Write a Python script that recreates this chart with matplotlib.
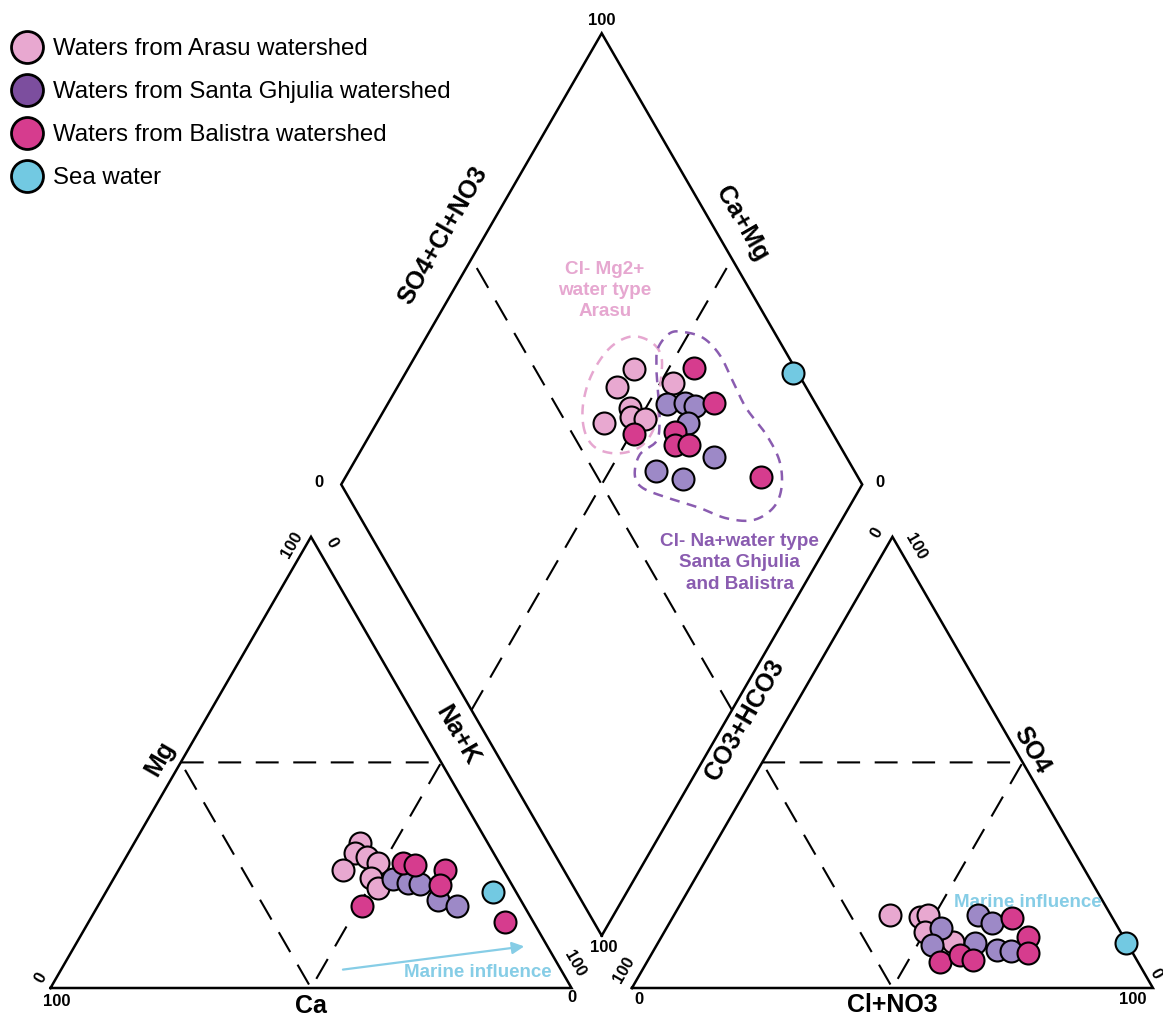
import numpy as np
import matplotlib.pyplot as plt
from matplotlib.lines import Line2D

plt.rcParams['font.family'] = ['Liberation Sans', 'DejaVu Sans']

# ---- values (%) ----
# cation triangle: Ca, Mg, Na+K
arasu_ca = [24.5, 26.6, 24.8, 30.7, 23.2, 26.2, 26.0]
arasu_mg = [32.2, 29.9, 29.0, 26.2, 27.7, 24.4, 22.2]
arasu_nak = [43.3, 43.5, 46.2, 43.1, 49.1, 49.4, 51.8]
santa_ca = [22.2, 19.7, 17.6, 15.9, 13.0]
santa_mg = [24.1, 23.2, 23.0, 19.5, 18.1]
santa_nak = [53.7, 57.1, 59.4, 64.6, 68.9]
bal_ca = [18.5, 16.4, 11.2, 13.8, 31.2, 5.4]
bal_mg = [27.6, 27.3, 26.2, 22.8, 18.2, 14.7]
bal_nak = [53.9, 56.3, 62.6, 63.4, 50.6, 79.9]
sea_ca, sea_mg, sea_nak = [4.4], [21.3], [74.3]

# anion triangle: CO3+HCO3, SO4, Cl+NO3
arasu_hco3 = [42.4, 36.8, 35.0, 37.5, 33.2]
arasu_so4 = [16.2, 15.8, 16.2, 12.5, 10.3]
arasu_cl = [41.4, 47.4, 48.8, 50.0, 56.5]
santa_hco3 = [34.0, 37.7, 25.4, 23.8, 29.2, 25.8, 23.1]
santa_so4 = [13.2, 9.5, 16.2, 14.3, 9.9, 8.4, 8.1]
santa_cl = [52.8, 52.8, 58.4, 61.9, 60.9, 65.8, 68.8]
bal_hco3 = [19.3, 18.2, 20.1, 38.0, 33.4, 31.4]
bal_so4 = [15.5, 11.4, 7.7, 5.8, 7.3, 6.2]
bal_cl = [65.2, 70.4, 72.2, 56.2, 59.3, 62.4]
sea_hco3, sea_so4, sea_cl = [0.1], [10.0], [89.9]

# diamond: SO4+Cl+NO3, Ca+Mg
arasu_scl = [69.0, 63.8, 57.2, 64.0, 63.2, 65.5, 74.9]
arasu_camg = [56.7, 57.9, 56.4, 53.0, 51.8, 49.0, 47.6]
santa_scl = [71.4, 75.0, 76.6, 73.4, 62.0, 66.2, 74.5]
santa_camg = [46.5, 43.1, 40.9, 40.2, 41.0, 35.0, 31.5]
bal_scl = [80.6, 80.5, 61.7, 69.8, 68.4, 71.1, 81.5]
bal_camg = [45.2, 37.5, 49.4, 41.8, 40.4, 37.6, 20.2]
sea_scl, sea_camg = [99.1], [25.6]

# hand-drawn water type envelopes in the diamond (SO4+Cl+NO3, Ca+Mg)
arasu_env_scl = [52.6, 55.2, 60.2, 66.6, 72.1, 75.3, 75.5, 71.8, 67.5, 62.3, 56.9, 53.0]
arasu_env_camg = [59.1, 62.4, 64.1, 63.6, 60.7, 56.2, 52.5, 49.5, 46.5, 46.5, 50.0, 55.0]
na_env_scl = [75.9, 79.8, 82.5, 85.7, 87.0, 86.6, 86.2, 87.1, 86.7, 84.1, 80.3,
              75.1, 70.2, 66.2, 61.5, 57.5, 57.4, 60.6, 65.3, 68.1, 70.8, 73.4]
na_env_camg = [54.3, 53.7, 51.3, 46.8, 41.7, 36.2, 30.7, 23.9, 18.4, 15.1, 14.5,
               17.0, 22.3, 28.6, 35.4, 41.7, 44.7, 46.0, 44.3, 45.9, 49.1, 52.4]

# marine influence arrow in cation triangle (Ca, Mg, Na+K)
arrow_start = (42.4, 4.0, 53.6)
arrow_end = (3.9, 9.3, 86.8)

c_arasu = '#e8a8d0'
c_santa = '#9d89c7'
c_santa_leg = '#7c4e9e'
c_bal = '#d63c8e'
c_sea = '#72c9e2'
c_marine = '#86cde6'
c_env_pink = '#e6a7d0'
c_env_purple = '#8a5cb0'

S3 = np.sqrt(3) / 2
GAP = 0.116


def cation_xy(ca, mg, nak):
    ca, mg, nak = (np.asarray(a, float) for a in (ca, mg, nak))
    tot = ca + mg + nak
    return (nak + mg / 2) / tot, mg / tot * S3


def anion_xy(hco3, so4, cl):
    hco3, so4, cl = (np.asarray(a, float) for a in (hco3, so4, cl))
    tot = hco3 + so4 + cl
    return 1 + GAP + (cl + so4 / 2) / tot, so4 / tot * S3


def diamond_xy(scl, camg):
    u = np.asarray(scl, float) / 100
    v = np.asarray(camg, float) / 100
    return 1 + GAP / 2 + 0.5 * (u - v), GAP * S3 + S3 * (u + v)


def smooth_closed(x, y, n=16):
    P = np.column_stack([x, y])
    m = len(P)
    t = np.linspace(0, 1, n, endpoint=False)[:, None]
    out = []
    for i in range(m):
        p0, p1, p2, p3 = P[i - 1], P[i], P[(i + 1) % m], P[(i + 2) % m]
        out.append(0.5 * (2 * p1 + (-p0 + p2) * t + (2 * p0 - 5 * p1 + 4 * p2 - p3) * t ** 2
                          + (-p0 + 3 * p1 - 3 * p2 + p3) * t ** 3))
    out = np.vstack(out)
    out = np.vstack([out, out[:1]])
    return out[:, 0], out[:, 1]


fig = plt.figure(figsize=(11.63, 10.19), dpi=100)
ax = fig.add_axes([0, 0, 1, 1])
ax.set_xlim(-50.5 / 521, 1112.5 / 521)
ax.set_ylim(-31 / 521, 988 / 521)
ax.axis('off')

frame = dict(color='black', lw=1.8, solid_joinstyle='miter', zorder=2)
dash = dict(color='black', lw=1.5, linestyle=(0, (11, 7)), zorder=1)

# frames
ax.plot(*cation_xy([100, 0, 0, 100], [0, 0, 100, 0], [0, 100, 0, 0]), **frame)
ax.plot(*anion_xy([100, 0, 0, 100], [0, 0, 100, 0], [0, 100, 0, 0]), **frame)
ax.plot(*diamond_xy([0, 100, 100, 0, 0], [0, 0, 100, 100, 0]), **frame)

# subdivisions
ax.plot(*cation_xy([50, 0, 50, 50], [50, 50, 0, 50], [0, 50, 50, 0]), **dash)
ax.plot(*anion_xy([50, 0, 50, 50], [50, 50, 0, 50], [0, 50, 50, 0]), **dash)
ax.plot(*diamond_xy([50, 50], [0, 100]), **dash)
ax.plot(*diamond_xy([0, 100], [50, 50]), **dash)

# envelopes
ex, ey = smooth_closed(*diamond_xy(arasu_env_scl, arasu_env_camg))
ax.plot(ex, ey, color=c_env_pink, lw=1.8, linestyle=(0, (4, 3)), zorder=2)
ex, ey = smooth_closed(*diamond_xy(na_env_scl, na_env_camg))
ax.plot(ex, ey, color=c_env_purple, lw=1.8, linestyle=(0, (4, 3)), zorder=2)

pt = dict(s=250, edgecolors='black', linewidths=1.5, zorder=4)
groups = [
    (c_arasu, arasu_ca, arasu_mg, arasu_nak, arasu_hco3, arasu_so4, arasu_cl, arasu_scl, arasu_camg),
    (c_santa, santa_ca, santa_mg, santa_nak, santa_hco3, santa_so4, santa_cl, santa_scl, santa_camg),
    (c_bal, bal_ca, bal_mg, bal_nak, bal_hco3, bal_so4, bal_cl, bal_scl, bal_camg),
    (c_sea, sea_ca, sea_mg, sea_nak, sea_hco3, sea_so4, sea_cl, sea_scl, sea_camg),
]
for col, ca, mg, nak, hc, so, cl, scl, camg in groups:
    ax.scatter(*cation_xy(ca, mg, nak), color=col, **pt)
    ax.scatter(*anion_xy(hc, so, cl), color=col, **pt)
    ax.scatter(*diamond_xy(scl, camg), color=col, **pt)

# marine influence
x0, y0 = cation_xy(*[[v] for v in arrow_start])
x1, y1 = cation_xy(*[[v] for v in arrow_end])
ax.annotate('', xy=(x1[0], y1[0]), xytext=(x0[0], y0[0]),
            arrowprops=dict(arrowstyle='-|>', color=c_marine, lw=1.6,
                            mutation_scale=18), zorder=3)
ax.annotate('Marine influence', xy=(x1[0], y1[0]), xytext=(-49, -26),
            textcoords='offset pixels', ha='center', va='center',
            fontsize=13.5, fontweight='bold', color=c_marine, zorder=3)
mx, my = anion_xy([14.3], [19.5], [66.2])
ax.text(mx[0], my[0] - 0.004, 'Marine influence', ha='center', va='center',
        fontsize=13.5, fontweight='bold', color=c_marine, zorder=3)

# water type annotations
tx, ty = diamond_xy([72.05], [70.9])
ax.text(tx[0], ty[0], 'Cl- Mg2+\nwater type\nArasu', ha='center', va='center',
        fontsize=13.6, fontweight='bold', color=c_env_pink, linespacing=1.32)
tx, ty = diamond_xy([67.8], [14.8])
ax.text(tx[0], ty[0], 'Cl- Na+water type\nSanta Ghjulia\nand Balistra', ha='center',
        va='center', fontsize=13.6, fontweight='bold', color=c_env_purple,
        linespacing=1.32)


def lab(text, xy, off, rot=0, size=12):
    ax.annotate(text, xy=(float(np.ravel(xy[0])[0]), float(np.ravel(xy[1])[0])),
                xytext=off, textcoords='offset pixels', ha='center', va='center',
                rotation=rot, rotation_mode='anchor', fontsize=size, fontweight='bold')


# cation labels
c_bl, c_br, c_t = cation_xy([100], [0], [0]), cation_xy([0], [0], [100]), cation_xy([0], [100], [0])
lab('100', c_bl, (6.5, -14))
lab('0', c_bl, (-9.5, 10), 60)
lab('Ca', cation_xy([50], [0], [50]), (0, -18), size=18)
lab('0', c_br, (0, -10))
lab('100', c_br, (3.5, 24), -60)
lab('Mg', cation_xy([50], [50], [0]), (-21, 4), 60, 18)
lab('Na+K', cation_xy([0], [50], [50]), (16, 27), -60, 18)
lab('100', c_t, (-19, -8), 60)
lab('0', c_t, (21, -6), -60)

# anion labels
a_bl, a_br, a_t = anion_xy([100], [0], [0]), anion_xy([0], [0], [100]), anion_xy([0], [100], [0])
lab('0', a_bl, (7, -11))
lab('100', a_bl, (-8, 18), 60)
lab('CO3+HCO3', anion_xy([50], [50], [0]), (-17, 42), 60, 18)
lab('0', a_t, (-16, 4), 60)
lab('100', a_t, (23.5, -10), -60)
lab('SO4', anion_xy([0], [50], [50]), (9, 12), -60, 18)
lab('Cl+NO3', anion_xy([50], [0], [50]), (0, -17), size=18)
lab('100', a_br, (-20, -12))
lab('0', a_br, (3, 14), -60)

# diamond labels
lab('100', diamond_xy([100], [100]), (0, 13))
lab('0', diamond_xy([0], [100]), (-22, 2))
lab('0', diamond_xy([100], [0]), (17.5, 2))
lab('100', diamond_xy([0], [0]), (2, -12))
lab('SO4+Cl+NO3', diamond_xy([50], [100]), (-28, 23.5), 60, 18)
lab('Ca+Mg', diamond_xy([100], [50]), (10, 35), -60, 18)

# legend
handles = [Line2D([], [], marker='o', ls='', markersize=23, markerfacecolor=c,
                  markeredgecolor='black', markeredgewidth=2)
           for c in (c_arasu, c_santa_leg, c_bal, c_sea)]
labels = ['Waters from Arasu watershed', 'Waters from Santa Ghjulia watershed',
          'Waters from Balistra watershed', 'Sea water']
ax.legend(handles, labels, loc='upper left', bbox_to_anchor=(10 / 1163, 1 - 38 / 1019),
          frameon=False, fontsize=17.3, handlelength=1.4, handletextpad=0.4,
          labelspacing=0.88, borderpad=0, borderaxespad=0)

fig.savefig('out.png', dpi=100)
